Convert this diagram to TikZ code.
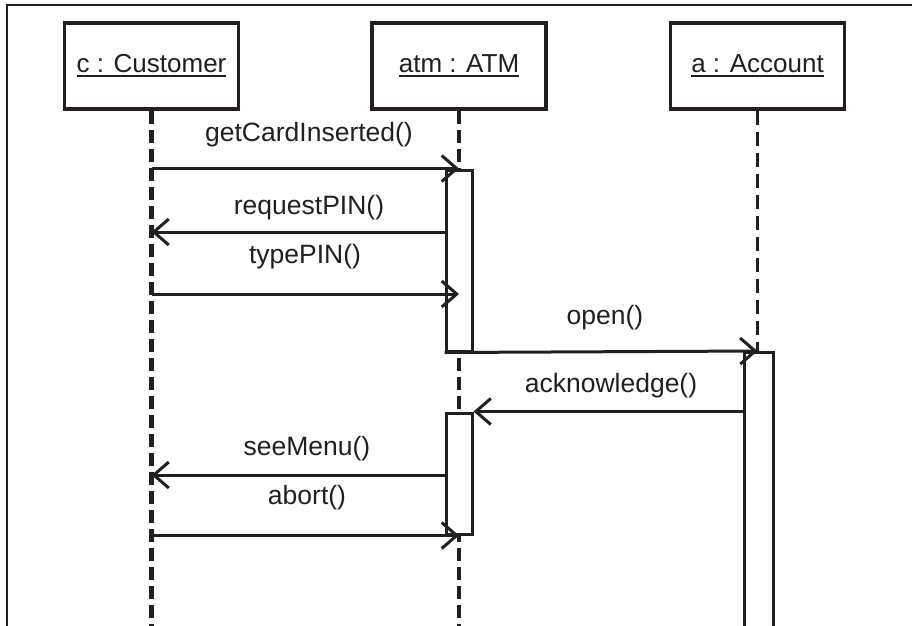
\documentclass[tikz,border=0pt]{standalone}
\usepackage{fontspec}
\setmainfont{Liberation Sans}
\usetikzlibrary{arrows.meta,positioning}
\definecolor{ink}{HTML}{231F20}
\tikzset{
  obj/.style={draw=ink, line width=3.5pt, fill=white, minimum width=174pt,
              minimum height=86pt, inner sep=0pt, text=ink,
              font=\fontsize{26}{30}\selectfont},
  act/.style={draw=ink, line width=3pt, fill=white, minimum width=26pt,
              inner sep=0pt},
  life/.style={draw=ink, line width=4.5pt, dash pattern=on 13pt off 6pt},
  thinlife/.style={draw=ink, line width=2.5pt, dash pattern=on 14pt off 7pt},
  msg/.style={draw=ink, line width=3pt,
              -{Straight Barb[length=15pt, width=26pt, line width=3pt]}},
  lbl/.style={text=ink, inner sep=0pt, font=\fontsize{26.5}{30}\selectfont},
}
\newcommand{\objname}[1]{\setbox0\hbox{#1}\rlap{\raisebox{-4.5pt}{\rule{\wd0}{2.2pt}}}\box0}

\begin{document}
\begin{tikzpicture}[x=1pt, y=-1pt]
    \path[use as bounding box, clip] (0,0) rectangle (912,625);
    \draw[draw=ink, line width=2.5pt] (7,630) -- (7,5) -- (915,5);

    % objects
    \node[obj] (cust) at (151.5,66) {\objname{c : Customer}};
    \node[obj] (atm) at (459,66) {\objname{atm : ATM}};
    \node[obj] (acct) at (757.5,66) {\objname{a : Account}};
    \coordinate (floor) at (0,640);

    % lifelines
    \draw[life] (cust.south) -- (cust.south |- floor);
    \draw[life] (atm.south) -- (atm.south |- floor);

    % activations
    \node[act, minimum height=181pt] (actA) at (459,260.5) {};
    \node[act, minimum height=121pt] (actB) at (459,473.5) {};
    \node[act, minimum width=29pt, minimum height=300pt, anchor=north] (actC) at (758.5,351) {};
    \draw[thinlife] (acct.south) -- (actC.north -| acct.south);

    % messages
    \coordinate (m2) at (0,232);
    \coordinate (m3) at (0,294);
    \coordinate (m6) at (0,475);
    \draw[msg] (cust |- actA.north) -- (actA.north);
    \draw[msg] (actA.west |- m2) -- (cust |- m2);
    \draw[msg] (cust |- m3) -- (actA.center |- m3);
    \draw[msg] (actA.south west) -- (actC.north -| acct.south);
    \draw[msg] (actC.west |- actB.north) -- (actB.north east);
    \draw[msg] (actB.west |- m6) -- (cust |- m6);
    \draw[msg] (cust |- actB.south) -- (actB.south);

    % labels
    \node[lbl] (l1) at (309,135) {getCardInserted()};
    \node[lbl] (l2) at (309,208) {requestPIN()};
    \node[lbl] (l3) at (305,257) {typePIN()};
    \node[lbl] (l4) at (605,318) {open()};
    \node[lbl] (l5) at (611,386) {acknowledge()};
    \node[lbl] (l6) at (307,449) {seeMenu()};
    \node[lbl] (l7) at (307,498) {abort()};
  \end{tikzpicture}
\end{document}
